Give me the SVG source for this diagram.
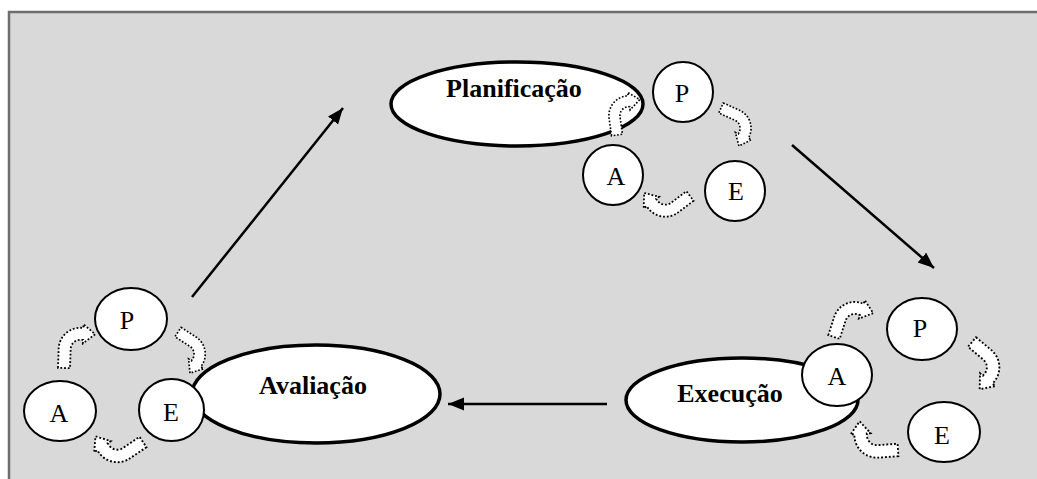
<svg xmlns="http://www.w3.org/2000/svg" xmlns:xlink="http://www.w3.org/1999/xlink" width="1037" height="479" viewBox="0 0 1037 479">
<defs>
<style>
.big{fill:#fff;stroke:#000;stroke-width:3.5}
.sm{fill:#fff;stroke:#000;stroke-width:2}
.lbl{font-family:"Liberation Serif","Times New Roman",serif;font-weight:bold;font-size:26px;text-anchor:middle;fill:#000}
.let{font-family:"Liberation Serif","Times New Roman",serif;font-size:26px;text-anchor:middle;fill:#000}
.dot{fill:#fff;stroke:#000;stroke-width:1.5;stroke-dasharray:1.5 1.6}
.con{fill:none;stroke:#000;stroke-width:2.5}
</style>
<marker id="ah" markerUnits="userSpaceOnUse" markerWidth="18" markerHeight="14" refX="16" refY="6.5" orient="auto">
<path d="M0,0 L16,6.5 L0,13 Z" fill="#000"/>
</marker>
<path id="ca" d="M-5,0 L-5,-16 A18,18 0 0 1 13,-34 L15,-34 L15,-37 L25,-29 L15,-21 L15,-24 L13,-24 A8,8 0 0 0 5,-16 L5,0 Z"/>
</defs>
<rect x="9" y="12" width="1040" height="480" fill="#d9d9d9" stroke="#6e6e6e" stroke-width="2.5"/>

<g id="connectors">
<path class="con" d="M192,297 L343,108" marker-end="url(#ah)"/>
<path class="con" d="M792,145 L934,268" marker-end="url(#ah)"/>
<path class="con" d="M607,404 L448,404" marker-end="url(#ah)"/>
</g>

<g id="planificacao">
<ellipse class="big" cx="517" cy="104" rx="126" ry="42"/>
<text class="lbl" x="514" y="97">Planificação</text>
<ellipse class="sm" cx="683" cy="92" rx="30" ry="30"/>
<text class="let" x="682" y="102">P</text>
<ellipse class="sm" cx="613" cy="175" rx="30" ry="30"/>
<text class="let" x="616" y="185">A</text>
<ellipse class="sm" cx="735" cy="191" rx="30" ry="30"/>
<text class="let" x="736" y="200">E</text>
<use xlink:href="#ca" class="dot" transform="translate(617,135) rotate(-8) scale(1.1)"/>
<use xlink:href="#ca" class="dot" transform="translate(721,108) rotate(114) scale(1.1)"/>
<use xlink:href="#ca" class="dot" transform="translate(690,196) rotate(233) scale(1.2)"/>
</g>

<g id="execucao">
<ellipse class="big" cx="742" cy="400" rx="116" ry="42"/>
<text class="lbl" x="730" y="402">Execução</text>
<ellipse class="sm" cx="837" cy="375" rx="35" ry="31"/>
<text class="let" x="837" y="385">A</text>
<ellipse class="sm" cx="922" cy="329" rx="35" ry="31"/>
<text class="let" x="920" y="337">P</text>
<ellipse class="sm" cx="944" cy="432" rx="36" ry="30"/>
<text class="let" x="942" y="444">E</text>
<use xlink:href="#ca" class="dot" transform="translate(834,337) rotate(18) scale(1.2)"/>
<use xlink:href="#ca" class="dot" transform="translate(972,342) rotate(130) scale(1.25)"/>
<use xlink:href="#ca" class="dot" transform="translate(898,450) rotate(266) scale(1.25)"/>
</g>

<g id="avaliacao">
<ellipse class="big" cx="316" cy="394" rx="124" ry="49"/>
<text class="lbl" x="313" y="394">Avaliação</text>
<ellipse class="sm" cx="131" cy="319" rx="36" ry="31"/>
<text class="let" x="127" y="329">P</text>
<ellipse class="sm" cx="60" cy="411" rx="36" ry="30"/>
<text class="let" x="59" y="422">A</text>
<ellipse class="sm" cx="171.5" cy="410" rx="32.5" ry="31"/>
<text class="let" x="171" y="421">E</text>
<use xlink:href="#ca" class="dot" transform="translate(64,368) rotate(2) scale(1.2)"/>
<use xlink:href="#ca" class="dot" transform="translate(178,332) rotate(123) scale(1.12)"/>
<use xlink:href="#ca" class="dot" transform="translate(143,442) rotate(236) scale(1.25)"/>
</g>
</svg>
